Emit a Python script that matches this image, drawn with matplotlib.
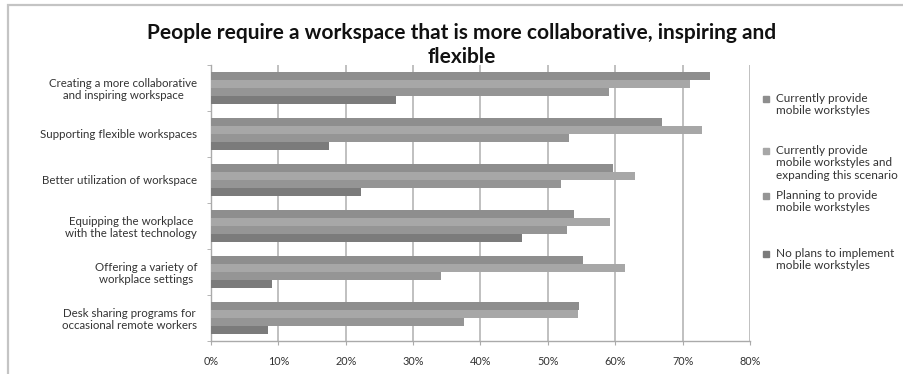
import matplotlib
matplotlib.use("Agg")
import matplotlib.pyplot as plt
from matplotlib.patches import Rectangle
import numpy as np

plt.rcParams['font.family'] = ['Lato', 'DejaVu Sans']

categories = [
    "Creating a more collaborative\nand inspiring workspace",
    "Supporting flexible workspaces",
    "Better utilization of workspace",
    "Equipping the workplace\nwith the latest technology",
    "Offering a variety of\nworkplace settings",
    "Desk sharing programs for\noccasional remote workers",
]
series_names = [
    "Currently provide\nmobile workstyles",
    "Currently provide\nmobile workstyles and\nexpanding this scenario",
    "Planning to provide\nmobile workstyles",
    "No plans to implement\nmobile workstyles",
]
current = [74.0, 67.0, 59.7, 53.9, 55.2, 54.6]
current_expanding = [71.1, 72.9, 63.0, 59.2, 61.5, 54.4]
planning = [59.0, 53.2, 52.0, 52.8, 34.2, 37.6]
no_plans = [27.4, 17.5, 22.3, 46.1, 9.0, 8.4]
tick_values = [0, 10, 20, 30, 40, 50, 60, 70, 80]

series = [current, current_expanding, planning, no_plans]
colors = ["#8e8e8e", "#a7a7a7", "#959595", "#7b7b7b"]

fig = plt.figure(figsize=(9.04, 3.74), dpi=100)
ax = fig.add_axes([211 / 904, 1 - 341 / 374, (750 - 211) / 904, (341 - 65) / 374])

# chart-area frame
fig.patches.append(Rectangle((8 / 904, -0.05), 1.2, 1 - 5 / 374 + 0.05,
                             transform=fig.transFigure, fill=False,
                             edgecolor="#c4c4c4", lw=1.6, zorder=0))

y = np.arange(len(categories))
bar_h = 0.175
for i, (vals, col) in enumerate(zip(series, colors)):
    offs = (i - 1.5) * bar_h
    ax.barh(y + offs, vals, height=bar_h, color=col, edgecolor="none", zorder=3)

ax.set_ylim(len(categories) - 0.5, -0.5)
ax.set_xlim(0, 80)
ax.set_xticks(tick_values)
ax.set_xticklabels([f"{v}%" for v in tick_values], fontsize=7.8, color="#333333")
ax.set_yticks(y)
ax.set_yticklabels(categories, fontsize=8.3, color="#333333", linespacing=1.15)
ax.set_yticks(np.arange(len(categories) + 1) - 0.5, minor=True)
ax.tick_params(axis="y", which="major", length=0, pad=10)
ax.tick_params(axis="y", which="minor", length=3, color="#aaaaaa", direction="out")
ax.tick_params(axis="x", length=3, color="#aaaaaa", pad=8)
for lbl in ax.get_yticklabels():
    lbl.set_horizontalalignment("right")
    lbl.set_multialignment("center")

ax.grid(axis="x", color="#b5b5b5", lw=1.2, zorder=0)
for s in ["top", "right"]:
    ax.spines[s].set_visible(False)
ax.spines["left"].set_color("#aaaaaa")
ax.spines["bottom"].set_color("#aaaaaa")
ax.spines["left"].set_linewidth(1.0)
ax.spines["bottom"].set_linewidth(1.0)

fig.text(462 / 904, 1 - 33 / 374,
         "People require a workspace that is more collaborative, inspiring and",
         ha="center", va="center", fontsize=15, fontweight="bold", color="#111111")
fig.text(462 / 904, 1 - 57 / 374, "flexible",
         ha="center", va="center", fontsize=15, fontweight="bold", color="#111111")

# legend
legend_tops = [93, 145, 190, 248]
for name, col, top in zip(series_names, colors, legend_tops):
    fig.patches.append(Rectangle((763 / 904, 1 - (top + 9) / 374), 6 / 904, 6 / 374,
                                 transform=fig.transFigure, color=col))
    fig.text(776 / 904, 1 - top / 374, name, ha="left", va="top",
             fontsize=8.5, color="#333333", linespacing=1.15)

fig.savefig("out.png", dpi=100)
